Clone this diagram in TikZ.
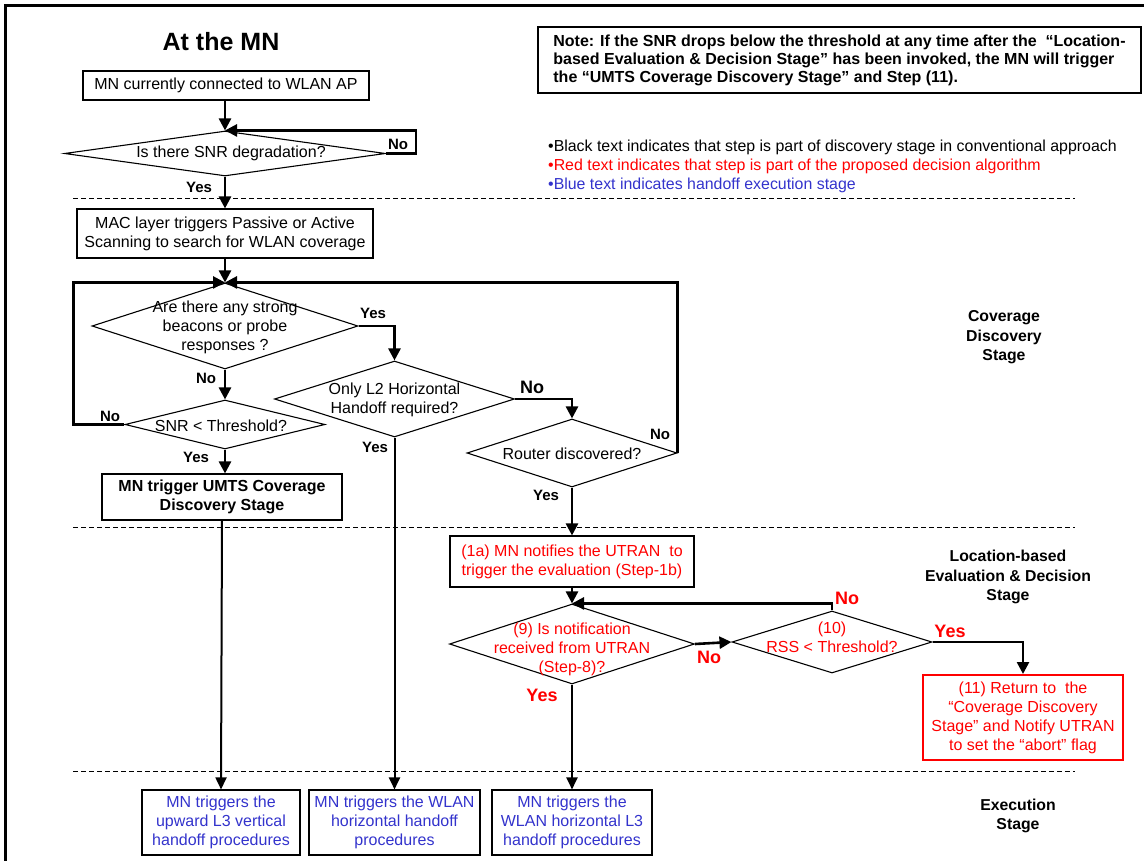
\documentclass[tikz,border=0pt]{standalone}
\usepackage{fontspec}
\setmainfont{Liberation Sans}
\usetikzlibrary{shapes.geometric,arrows.meta}
\definecolor{stepred}{RGB}{255,0,0}
\definecolor{execblue}{RGB}{51,51,204}
\newcommand\fbody{\fontsize{16}{19}\selectfont}
\newcommand\fnote{\fontsize{16}{18}\selectfont}
\newcommand\flegend{\fontsize{15.9}{19}\selectfont}
\newcommand\fstage{\fontsize{15.8}{19.5}\selectfont}
\newcommand\fsmall{\fontsize{15}{18}\selectfont}
\newcommand\fbig{\fontsize{18}{20}\selectfont}
\begin{document}
\begin{tikzpicture}[x=1pt,y=-1pt,
  box/.style={draw, line width=1.1pt, inner sep=2pt, align=center, font=\fbody},
  dia/.style={draw, diamond, line width=1.1pt, inner sep=0pt},
  txt/.style={align=center, font=\fbody, inner sep=0pt},
  flow/.style={line width=2.6pt, -{Triangle[length=12pt,width=12pt]}},
  flowthin/.style={line width=2pt, -{Triangle[length=12pt,width=11pt]}},
  tag/.style={font=\fsmall\bfseries, inner sep=0pt},
  bigtag/.style={font=\fbig\bfseries, inner sep=0pt},
  redtag/.style={font=\fbig\bfseries, text=stepred, inner sep=0pt},
  stagetext/.style={font=\fstage\bfseries, align=center, inner sep=0pt},
  sep/.style={dash pattern=on 5pt off 3pt, line width=0.9pt},
  execbox/.style={box, text=execblue, minimum height=65pt, inner sep=1pt}]
\useasboundingbox (0,0) rectangle (1144,861);

% outer frame (left and top edges)
\draw[line width=3pt] (5.5,861) -- (5.5,5.5) -- (1144,5.5);

% heading, note and legend
\node[font=\fontsize{25}{28}\selectfont\bfseries, inner sep=0pt] (title) at (221,42) {At the MN};
\node[draw, line width=1.1pt, minimum width=603pt, minimum height=66pt, align=left,
      font=\fnote\bfseries, inner sep=0pt] (note) at (839.5,60)
  {Note: If the SNR drops below the threshold at any time after the \ “Location-\\
   based Evaluation \& Decision Stage” has been invoked, the MN will trigger\\
   the “UMTS Coverage Discovery Stage” and Step (11).};
\node[anchor=west, font=\flegend, inner sep=0pt] (leg1) at (548,147)
  {•Black text indicates that step is part of discovery stage in conventional approach};
\node[anchor=west, font=\flegend, inner sep=0pt, text=stepred] (leg2) at (548,166)
  {•Red text indicates that step is part of the proposed decision algorithm};
\node[anchor=west, font=\flegend, inner sep=0pt, text=execblue] (leg3) at (548,185)
  {•Blue text indicates handoff execution stage};

% stage separators
\draw[sep] (73,198) -- (1075,198);
\draw[sep] (73,527) -- (1075,527);
\draw[sep] (73,771) -- (1075,771);

% stage names
\node[stagetext] (stcov) at (1004,337.5) {Coverage\\Discovery\\Stage};
\node[stagetext] (stloc) at (1008,577) {Location-based\\Evaluation \& Decision\\Stage};
\node[stagetext] (stexe) at (1018,816) {Execution\\Stage};

% discovery stage
\node[box, minimum width=286pt, minimum height=29pt] (start) at (226,85.5) {MN currently connected to WLAN AP};
\node[dia, minimum width=321pt, minimum height=45pt] (snr) at (225,153.5) {};
\node[txt] (snrt) at (231,153.5) {Is there SNR degradation?};

\node[box, minimum width=296pt, minimum height=49pt] (mac) at (225,233.5)
  {MAC layer triggers Passive or Active\\Scanning to search for WLAN coverage};
\node[dia, minimum width=266pt, minimum height=86pt] (beacon) at (225,326) {};
\node[txt] (beacont) at (225,327) {Are there any strong\\beacons or probe\\responses ?};

\node[dia, minimum width=200pt, minimum height=49pt] (thr) at (225,424.5) {};
\node[txt] (thrt) at (221,426) {SNR < Threshold?};

\node[box, font=\fbody\bfseries, minimum width=240pt, minimum height=46pt] (umts) at (222,497)
  {MN trigger UMTS Coverage\\Discovery Stage};

\node[dia, minimum width=240pt, minimum height=76pt] (l2) at (394.5,399) {};
\node[txt] (l2t) at (394.5,400) {Only L2 Horizontal\\Handoff required?};

\node[dia, minimum width=210pt, minimum height=68pt] (router) at (572,453) {};
\node[txt] (routert) at (572,454) {Router discovered?};

% evaluation & decision stage
\node[box, text=stepred, minimum width=244pt, minimum height=51pt] (notify) at (572,561.5)
  {(1a) MN notifies the UTRAN \ to\\trigger the evaluation (Step-1b)};
\node[dia, minimum width=245pt, minimum height=80pt] (notif) at (572,644) {};
\node[txt, text=stepred] (notift) at (572,649) {(9) Is notification\\received from UTRAN\\(Step-8)?};

\node[dia, minimum width=200pt, minimum height=62pt] (rss) at (832,642) {};
\node[txt, text=stepred] (rsst) at (832,637.5) {(10)\\RSS < Threshold?};

\node[box, draw=stepred, line width=2pt, text=stepred, minimum width=200pt, minimum height=85pt] (abort) at (1023,717.5)
  {(11) Return to \ the\\“Coverage Discovery\\Stage” and Notify UTRAN\\to set the “abort” flag};

% execution stage
\node[execbox, minimum width=158pt] (exv) at (221,822.5) {MN triggers the\\upward L3 vertical\\handoff procedures};
\node[execbox, minimum width=171pt] (exh) at (394.5,822.5) {MN triggers the WLAN\\horizontal handoff\\procedures};
\node[execbox, minimum width=160pt] (exl) at (572,822.5) {MN triggers the\\WLAN horizontal L3\\handoff procedures};

% connectors
\draw[flow] (start.south -| snr.north) -- (snr.north);
\draw[flow] (snr.east) -- ++(30,0) |- (snr.north);
\draw[flow] (snr.south) -- (mac.north);
\draw[flow] (mac.south) -- (beacon.north);
\draw[flow] (beacon.south) -- (thr.north);
\draw[flow] (thr.west) -- ++(-51,0) |- (beacon.north);
\draw[flow] (thr.south) -- (thr.south |- umts.north);
\draw[flow] (beacon.east) -| (l2.north);
\draw[flow] (l2.east) -| (router.north);
\draw[flow] (router.east) |- (beacon.north);
\draw[flow] (router.south) -- (notify.north);
\draw[flow] (notify.south) -- (notif.north);
\draw[flow] (notif.east) -- (rss.west);
\draw[flow] (rss.north) |- (notif.north);
\draw[flow] (rss.east) -| (abort.north);
\draw[flowthin] (umts.south) -- (exv.north);
\draw[flowthin] (l2.south) -- (exh.north);
\draw[flowthin] (notif.south) -- (exl.north);

% branch labels
\node[tag] (n1) at (398,144) {No};
\node[tag] (y1) at (199,187) {Yes};
\node[tag] (y2) at (373,313) {Yes};
\node[tag] (n2) at (206,378) {No};
\node[tag] (n3) at (110,416) {No};
\node[tag] (y3) at (196,457) {Yes};
\node[bigtag] (n4) at (532,387) {No};
\node[tag] (y4) at (375,447) {Yes};
\node[tag] (n5) at (660,434) {No};
\node[tag] (y5) at (546,495) {Yes};
\node[redtag] (n6) at (847,598) {No};
\node[redtag] (n7) at (709,657) {No};
\node[redtag] (y6) at (950,631) {Yes};
\node[redtag] (y7) at (542,695) {Yes};
\end{tikzpicture}
\end{document}
